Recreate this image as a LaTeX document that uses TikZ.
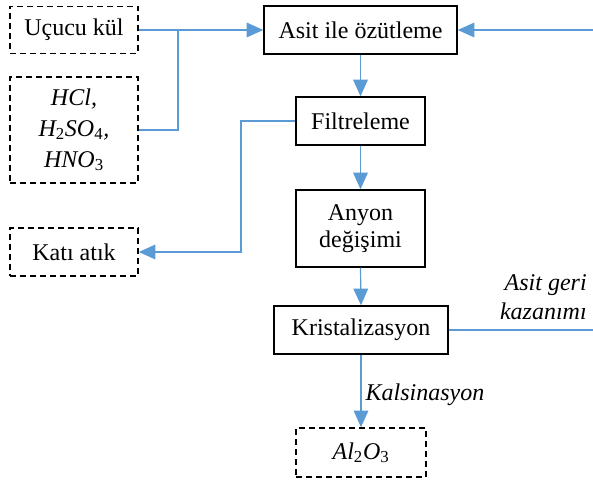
\documentclass[tikz,border=0pt]{standalone}
\usepackage{fontspec}
\setmainfont{Liberation Serif}
\usetikzlibrary{arrows.meta}
\definecolor{flowblue}{HTML}{5B9BD5}
\tikzset{
  procbox/.style={draw=black, line width=1.1pt, inner sep=0pt, align=center, font=\fontsize{18}{20}\selectfont},
  extbox/.style={procbox, dash pattern=on 4.5pt off 3pt},
  flow/.style={draw=flowblue, line width=0.9pt},
  flowarrow/.style={flow, -{Triangle[length=12.5pt, width=11pt, fill=flowblue]}},
  note/.style={font=\fontsize{18}{20}\selectfont\itshape, inner sep=0pt}
}
\newcommand{\chemsub}[1]{\textsubscript{\upshape #1}}
\begin{document}
\begin{tikzpicture}[x=0.75pt, y=-0.75pt]
\useasboundingbox (0,0) rectangle (593,481);
% input and output streams (dashed)
\node[extbox, minimum width=96pt, minimum height=35.25pt] (fly) at (74,30) {Uçucu kül};
\node[extbox, minimum width=96pt, minimum height=79.5pt, font=\fontsize{18}{23}\selectfont\itshape] (acid) at (74,130) {HCl,\\H\chemsub{2}SO\chemsub{4},\\HNO\chemsub{3}};
\node[extbox, minimum width=96pt, minimum height=36pt] (waste) at (74,252) {Katı atık};
\node[extbox, minimum width=97.5pt, minimum height=36.75pt] (alumina) at (361,452.5) {\itshape Al\chemsub{2}O\chemsub{3}};
% process steps
\node[procbox, minimum width=144.75pt, minimum height=36pt] (leach) at (360.5,30) {Asit ile özütleme};
\node[procbox, minimum width=96.75pt, minimum height=36pt] (filter) at (360.5,121) {Filtreleme};
\node[procbox, minimum width=96.75pt, minimum height=57.75pt, font=\fontsize{18}{20}\selectfont] (anion) at (360.5,228.5) {Anyon\\değişimi};
\node[procbox, minimum width=130.5pt, minimum height=36pt] (cryst) at (361,330) {Kristalizasyon};
% free ends of the recycle loop
\coordinate (recycleout) at (593,330);
\coordinate (recyclein) at (593,30);
% connectors
\draw[flowarrow] (fly.east) -- (leach.west);
\draw[flow] (acid.east) -- (178,130) |- (fly.east);
\draw[flowarrow] (leach.south) -- (filter.north);
\draw[flowarrow] (filter.south) -- (anion.north);
\draw[flowarrow] (anion.south) -- (cryst.north);
\draw[flowarrow] (cryst.south) -- (alumina.north) node[note, midway, anchor=west, xshift=3pt, yshift=-3pt] (calc) {Kalsinasyon};
\draw[flowarrow] (filter.west) -- (241,121) |- (waste.east);
\draw[flow] (cryst.east) -- (recycleout);
\draw[flowarrow] (recyclein) -- (leach.east);
\node[note, anchor=east, align=right, font=\fontsize{18}{22}\selectfont\itshape] (recov) at (587,297) {Asit geri\\kazanımı};
\end{tikzpicture}
\end{document}
